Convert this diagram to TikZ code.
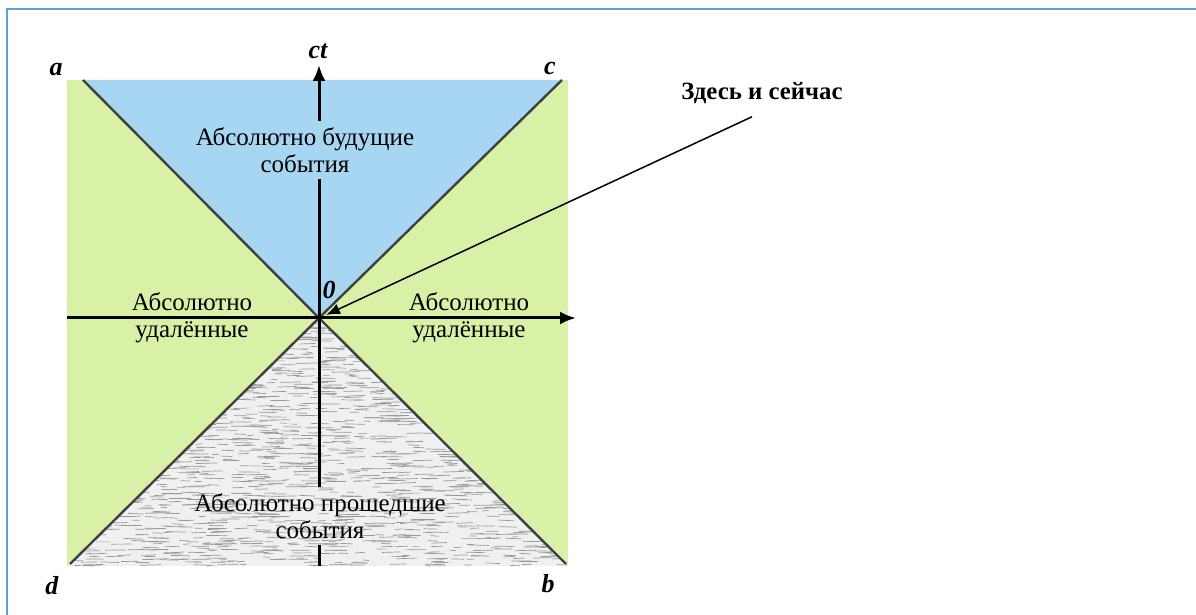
\documentclass[tikz,border=0pt]{standalone}
\usepackage{fontspec}
\setmainfont{Liberation Serif}
\usetikzlibrary{arrows.meta}
\definecolor{azzurro}{RGB}{166,214,242}
\definecolor{verde}{RGB}{216,241,166}
\definecolor{bordo}{RGB}{95,160,215}
\begin{document}
\begin{tikzpicture}[x=0.5pt,y=-0.5pt,>={Latex[length=8pt,width=6.5pt]},
		asse/.style={line width=1.5pt},
		cono/.style={line width=1.2pt, black!75},
		trama/.style={line width=0.35pt, gray!80},
		testo/.style={font=\fontsize{12.5}{13.5}\selectfont, align=center, inner xsep=2pt, inner ysep=3pt},
		lettera/.style={font=\fontsize{13}{15}\selectfont\bfseries\itshape, inner sep=0pt},
		freccia/.style={line width=0.75pt, -{Latex[length=7pt,width=5.5pt]}},
		]
		% ── Parametri ──
		\def\xL{67}\def\xR{568}\def\yT{80}\def\yB{566}
		\useasboundingbox (0,0) rectangle (1196,615);
		\coordinate (O) at (319,318);
		% ── Cornice ──
		\draw[line width=1.1pt, bordo] (7,615) -- (7,9) -- (1196,9);
		% ── Regioni ──
		\fill[verde] (\xL,\yT) rectangle (\xR,\yB);
		\fill[azzurro] (83,\yT) -- (562,\yT) -- (O) -- cycle;
		\begin{scope}
			\clip (68,\yB) -- (567,\yB) -- (O) -- cycle;
			\fill[gray!12] (60,310) rectangle (575,\yB);
			\pgfmathsetseed{3}
			\foreach \r in {0,...,83}{
				\foreach \k in {1,...,24}{
					\pgfmathsetmacro{\xa}{60+510*rnd}
					\pgfmathsetmacro{\ya}{318+3*\r+2*rnd}
					\pgfmathsetmacro{\lu}{6+16*rnd}
					\draw[trama] (\xa,\ya) -- ++(\lu,{1.5*rnd-0.75});}}
		\end{scope}
		% ── Cono di luce ──
		\draw[cono] (83,\yT) -- (O) -- (566,564);
		\draw[cono] (562,\yT) -- (O) -- (70,564);
		% ── Testi ──
		\node[testo] (fut) at (305,150) {Абсолютно будущие\\события};
		\node[testo] (pas) at (320,516) {Абсолютно прошедшие\\события};
		\node[testo] (sx) at (192,318) {Абсолютно\\удалённые};
		\node[testo] (dx) at (469,318) {Абсолютно\\удалённые};
		\node[lettera] (ct) at (318,51) {ct};
		\node[lettera] (a) at (56,70) {a};
		\node[lettera] (c) at (550,69) {c};
		\node[lettera] (d) at (52,586) {d};
		\node[lettera] (b) at (548,584) {b};
		\node[lettera] (zero) at (329,290) {0};
		\node[font=\fontsize{12.4}{14}\selectfont\bfseries] (qui) at (762,93) {Здесь и сейчас};
		% ── Assi ──
		\coordinate (xs) at (\xL,318);
		\coordinate (xe) at (576,318);
		\coordinate (yb) at (319,\yB);
		\draw[asse,->] (xs) -- (xe);
		\draw[asse] (yb) -- (pas.south -| O);
		\draw[asse] (pas.north -| O) -- (fut.south -| O);
		\draw[asse,->,shorten >=3pt] (fut.north -| O) -- (ct.south -| O);
		% ── Qui e ora ──
		\coordinate (ora) at (326,315);
		\draw[freccia] ([shift={(-10,6)}]qui.south) -- (ora);
\end{tikzpicture}
\end{document}
